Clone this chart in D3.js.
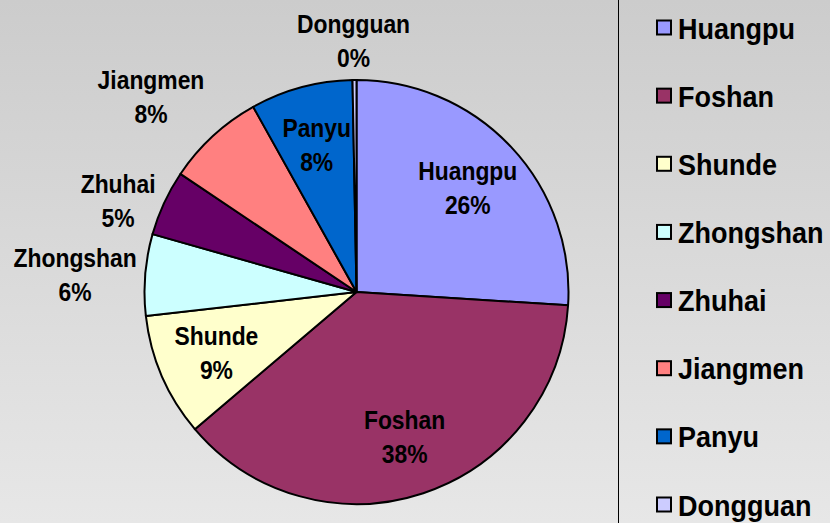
<!DOCTYPE html>
<html>
<head>
<meta charset="utf-8">
<script src="https://cdn.jsdelivr.net/npm/d3@7"></script>
<style>
  html, body { margin: 0; padding: 0; }
  body { width: 830px; height: 523px; overflow: hidden; }
  text { font-family: "Liberation Sans", Arial, sans-serif; font-weight: bold; fill: #000; }
</style>
</head>
<body>
<div id="chart"></div>
<script>
const regions = ['Huangpu', 'Foshan', 'Shunde', 'Zhongshan', 'Zhuhai', 'Jiangmen', 'Panyu', 'Dongguan'];
const shares = [26.0, 37.8, 9.4, 6.2, 5.0, 7.5, 7.8, 0.3];
const colors = ['#9999ff', '#993366', '#ffffcc', '#ccffff', '#660066', '#ff8080', '#0066cc', '#ccccff'];
const outside = ['Zhongshan', 'Zhuhai', 'Jiangmen', 'Dongguan'];

const W = 830, H = 523;
const cx = 356.5, cy = 292, R = 212;

const svg = d3.select('#chart').append('svg')
  .attr('width', W).attr('height', H);

// background gradient
const grad = svg.append('defs').append('linearGradient')
  .attr('id', 'bg').attr('x1', 0).attr('y1', 0).attr('x2', 0).attr('y2', 1);
grad.append('stop').attr('offset', '0%').attr('stop-color', '#cccccc');
grad.append('stop').attr('offset', '100%').attr('stop-color', '#e7e7e7');
svg.append('rect').attr('width', W).attr('height', H).attr('fill', 'url(#bg)');

const data = regions.map((name, i) => ({ name, value: shares[i], color: colors[i] }));
const total = d3.sum(shares);

const pie = d3.pie().value(d => d.value).sort(null);
const arc = d3.arc().innerRadius(0).outerRadius(R);
const inner = d3.arc().innerRadius(R * 0.72).outerRadius(R * 0.72);

const g = svg.append('g').attr('transform', `translate(${cx},${cy})`);
const arcs = pie(data);

g.selectAll('path.slice')
  .data(arcs)
  .join('path')
  .attr('class', 'slice')
  .attr('d', arc)
  .attr('fill', d => d.data.color)
  .attr('stroke', '#000')
  .attr('stroke-width', 2)
  .attr('stroke-linejoin', 'round');

// labels
const fmt = v => Math.round(v / total * 100) + '%';
const lineGap = 34;
const clamp01 = v => Math.max(0, Math.min(1, v));

const labels = g.selectAll('g.lbl')
  .data(arcs)
  .join('g')
  .attr('class', 'lbl');

labels.each(function(d) {
  const t = d3.select(this).append('text')
    .attr('text-anchor', 'middle')
    .attr('transform', 'scale(0.88,1)')
    .style('font-size', '26px');
  t.append('tspan').attr('x', 0).attr('y', -8).text(d.data.name);
  t.append('tspan').attr('x', 0).attr('y', -8 + lineGap).text(fmt(d.data.value));

  let px, py;
  if (outside.includes(d.data.name)) {
    // sit the label box just outside the rim, Excel-style
    const bb = this.getBBox();
    const a = (d.startAngle + d.endAngle) / 2;
    const sx = Math.sin(a), sy = -Math.cos(a);
    const ex = sx * R, ey = sy * R;
    const fx = clamp01(Math.abs(sx) * 1.5), fy = clamp01((Math.abs(sy) - 0.4) * 3);
    px = ex + Math.sign(sx) * (bb.width / 2 + 8.5) * fx;
    py = ey + Math.sign(sy) * (26 + 13) * fy;
  } else {
    [px, py] = inner.centroid(d);
  }
  d3.select(this).attr('transform', `translate(${px},${py})`);
});

// legend
const divX = 618.5;
svg.append('line')
  .attr('x1', divX).attr('x2', divX).attr('y1', 0).attr('y2', H)
  .attr('stroke', '#000').attr('stroke-width', 1);

const ly = d3.scalePoint().domain(regions).range([27.5, 504.5]);

const leg = svg.selectAll('g.leg')
  .data(data)
  .join('g')
  .attr('class', 'leg')
  .attr('transform', d => `translate(657,${ly(d.name)})`);

leg.append('rect')
  .attr('x', 0).attr('y', -7).attr('width', 14).attr('height', 14)
  .attr('fill', d => d.color)
  .attr('stroke', '#000').attr('stroke-width', 2);

leg.append('text')
  .attr('transform', 'translate(21,11) scale(0.9,1)')
  .style('font-size', '30px')
  .text(d => d.name);
</script>
</body>
</html>
